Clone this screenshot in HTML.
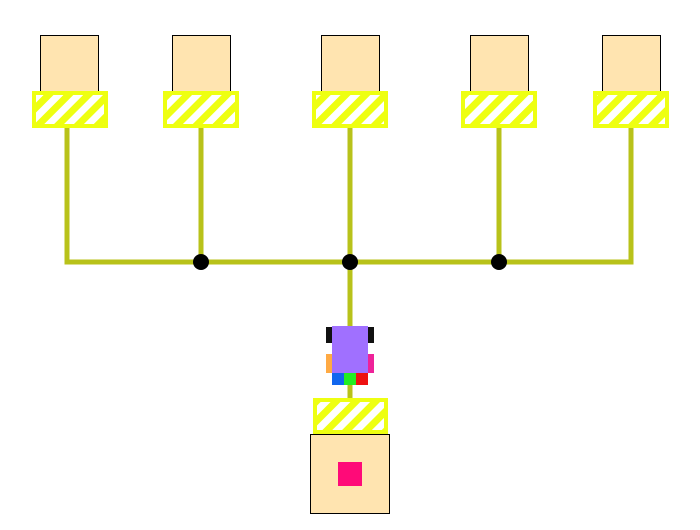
<!DOCTYPE html>
<html><head><style>body{margin:0;background:#fff}</style></head><body>
<svg width="700" height="525" xmlns="http://www.w3.org/2000/svg">
<defs>
<pattern id="h" patternUnits="userSpaceOnUse" width="14" height="14" patternTransform="rotate(45)">
<rect width="14" height="14" fill="#fff"/><rect width="7" height="14" fill="#eeff11"/>
</pattern>
</defs>
<g stroke="#b8c21a" stroke-width="5" fill="none">
<line x1="67" y1="125" x2="67" y2="262"/>
<line x1="201" y1="125" x2="201" y2="262"/>
<line x1="350" y1="125" x2="350" y2="330"/>
<line x1="499" y1="125" x2="499" y2="262"/>
<line x1="631" y1="125" x2="631" y2="262"/>
<line x1="64.5" y1="262" x2="633.5" y2="262"/>
<line x1="350" y1="380" x2="350" y2="400"/>
</g>
<g fill="#000"><circle cx="201" cy="262" r="8"/><circle cx="350" cy="262" r="8"/><circle cx="499" cy="262" r="8"/></g>
<g fill="#ffe4b0" stroke="#000" stroke-width="1">
<rect x="40.5" y="35.5" width="58" height="58"/>
<rect x="172.5" y="35.5" width="58" height="58"/>
<rect x="321.5" y="35.5" width="58" height="58"/>
<rect x="470.5" y="35.5" width="58" height="58"/>
<rect x="602.5" y="35.5" width="58" height="58"/>
</g>
<g fill="url(#h)" stroke="#eeff11" stroke-width="4">
<rect x="34" y="93" width="72" height="33"/>
<rect x="165" y="93" width="72" height="33"/>
<rect x="314" y="93" width="72" height="33"/>
<rect x="463" y="93" width="72" height="33"/>
<rect x="595" y="93" width="72" height="33"/>
<rect x="315" y="400" width="71" height="32"/>
</g>
<rect x="310.5" y="434.5" width="79" height="79" fill="#ffe4b0" stroke="#000"/>
<rect x="338" y="462" width="24" height="24" fill="#ff0a78"/>
<rect x="326" y="327" width="6" height="16" fill="#111"/>
<rect x="368" y="327" width="6" height="16" fill="#111"/>
<rect x="326" y="354" width="6" height="19" fill="#ffaa44"/>
<rect x="368" y="354" width="6" height="19" fill="#ee2299"/>
<rect x="332" y="326" width="36" height="47" fill="#a070ff"/>
<rect x="332" y="373" width="12" height="12" fill="#1166ee"/>
<rect x="344" y="373" width="12" height="12" fill="#22ee22"/>
<rect x="356" y="373" width="12" height="12" fill="#ee1111"/>
</svg>
</body></html>
